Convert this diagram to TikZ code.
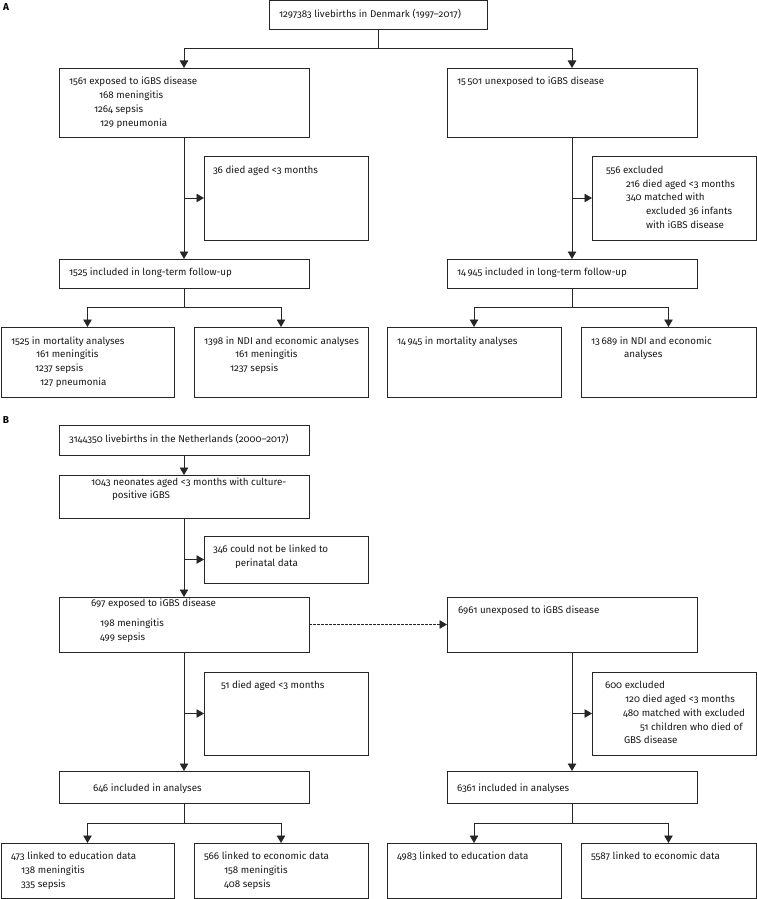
\documentclass[tikz,border=0pt]{standalone}
\usepackage{fontspec}
\setmainfont{Fira Sans}[Numbers=OldStyle]
\usetikzlibrary{arrows.meta}
\tikzset{
  box/.style={draw=black!85, line width=0.9pt, inner sep=0pt, outer sep=0pt, rectangle},
  txt/.style={anchor=base west, inner sep=0pt, outer sep=0pt, font=\fontsize{9.8}{12}\selectfont, text=black!90, yshift=-2.7pt},
  lbl/.style={anchor=center, inner sep=0pt, font=\fontsize{10}{12}\selectfont\bfseries},
  conn/.style={draw=black!85, line width=0.9pt},
  arr/.style={conn, -{Triangle[length=7.5pt,width=8.5pt]}},
  darr/.style={arr, dash pattern=on 2.5pt off 1.5pt}
}
\newcommand\bx[5]{\node[box,anchor=north west,minimum width={(#4-#2)*1pt},minimum height={(#5-#3)*1pt}] (#1) at (#2pt,-#3pt) {};}
\newcommand\tx[4]{\node[txt] (#1) at (#2pt,-#3pt) {#4};}
\begin{document}
\begin{tikzpicture}
\useasboundingbox (0,0) rectangle (757pt,-899pt);
% labels
\node[lbl] (lA) at (6pt,-7pt) {A};
\node[lbl] (lB) at (6pt,-420pt) {B};
% ---------- Panel A ----------
\bx{top}{269}{0.5}{487}{29}
\tx{ttop}{279}{15}{1297383 livebirths in Denmark (1997–2017)}
\bx{ex}{59}{68}{309}{137}
\tx{tex1}{69}{82}{1561 exposed to iGBS disease}
\tx{tex2}{99}{96}{168 meningitis}
\tx{tex3}{94}{110}{1264 sepsis}
\tx{tex4}{100}{124}{129 pneumonia}
\bx{un}{447}{68}{697}{137}
\tx{tun}{457}{82}{15\,501 unexposed to iGBS disease}
\bx{died}{204}{156}{368}{240}
\tx{tdied}{213}{171}{36 died aged <3 months}
\bx{excl}{592}{156}{756}{240}
\tx{texc1}{606}{171}{556 excluded}
\tx{texc2}{626}{185}{216 died aged <3 months}
\tx{texc3}{626}{198}{340 matched with}
\tx{texc4}{646}{212}{excluded 36 infants}
\tx{texc5}{646}{226}{with iGBS disease}
\bx{incl}{59}{259}{309}{288}
\tx{tincl}{69}{273}{1525 included in long-term follow-up}
\bx{incr}{447}{259}{697}{288}
\tx{tincr}{457}{273}{14\,945 included in long-term follow-up}
\bx{mortl}{1}{327}{174}{397}
\tx{tml1}{11}{342}{1525 in mortality analyses}
\tx{tml2}{36}{355}{161 meningitis}
\tx{tml3}{35}{369}{1237 sepsis}
\tx{tml4}{40}{383}{127 pneumonia}
\bx{ndil}{194}{327}{368}{397}
\tx{tnl1}{204}{342}{1398 in NDI and economic analyses}
\tx{tnl2}{235}{355}{161 meningitis}
\tx{tnl3}{230}{369}{1237 sepsis}
\bx{mortr}{387}{327}{561}{397}
\tx{tmr1}{397}{342}{14\,945 in mortality analyses}
\bx{ndir}{581}{327}{756}{397}
\tx{tnr1}{591}{342}{13\,689 in NDI and economic}
\tx{tnr2}{624}{355}{analyses}
% connectors A
\draw[arr] (top.south) -- ++(0,-19pt) -| (ex.north);
\draw[arr] (top.south) -- ++(0,-19pt) -| (un.north);
\draw[arr] (ex.south) -- (incl.north);
\draw[arr] (died.west -| ex.south) -- (died.west);
\draw[arr] (un.south) -- (incr.north);
\draw[arr] (excl.west -| un.south) -- (excl.west);
\draw[arr] (incl.south) -- ++(0,-19pt) -| (mortl.north);
\draw[arr] (incl.south) -- ++(0,-19pt) -| (ndil.north);
\draw[arr] (incr.south) -- ++(0,-19pt) -| (mortr.north);
\draw[arr] (incr.south) -- ++(0,-19pt) -| (ndir.north);
% ---------- Panel B ----------
\bx{nl}{59}{425}{309}{455}
\tx{tnl}{69}{440}{3144350 livebirths in the Netherlands (2000–2017)}
\bx{neo}{59}{475}{309}{518}
\tx{tneo1}{91}{483}{1043 neonates aged <3 months with culture-}
\tx{tneo2}{112}{496}{positive iGBS}
\bx{nolink}{204}{536}{368}{583}
\tx{tnol1}{213}{550}{346 could not be linked to}
\tx{tnol2}{235}{564}{perinatal data}
\bx{exb}{59}{597}{309}{652}
\tx{texb1}{91}{604}{697 exposed to iGBS disease}
\tx{texb2}{100}{624}{198 meningitis}
\tx{texb3}{100}{638}{499 sepsis}
\bx{unb}{447}{597}{697}{652}
\tx{tunb}{458}{611}{6961 unexposed to iGBS disease}
\bx{diedb}{204}{672}{368}{755}
\tx{tdiedb}{221}{686}{51 died aged <3 months}
\bx{exclb}{592}{672}{756}{755}
\tx{texb6}{605}{686}{600 excluded}
\tx{texb7}{625}{700}{120 died aged <3 months}
\tx{texb8}{623}{714}{480 matched with excluded}
\tx{texb9}{640}{728}{51 children who died of}
\tx{texb10}{624}{741}{GBS disease}
\bx{inclb}{59}{771}{309}{803}
\tx{tinclb}{93}{789}{646 included in analyses}
\bx{incrb}{447}{771}{697}{803}
\tx{tincrb}{457}{789}{6361 included in analyses}
\bx{edul}{1}{843}{174}{898.5}
\tx{tel1}{11}{857}{473 linked to education data}
\tx{tel2}{21}{871}{138 meningitis}
\tx{tel3}{21}{885}{335 sepsis}
\bx{ecol}{194}{843}{368}{898.5}
\tx{tcl1}{204}{857}{566 linked to economic data}
\tx{tcl2}{224}{871}{158 meningitis}
\tx{tcl3}{224}{885}{408 sepsis}
\bx{edur}{387}{843}{561}{898.5}
\tx{ter1}{397}{857}{4983 linked to education data}
\bx{ecor}{581}{843}{756}{898.5}
\tx{tcr1}{591}{857}{5587 linked to economic data}
% connectors B
\draw[arr] (nl.south) -- (neo.north);
\draw[arr] (neo.south) -- (exb.north);
\draw[arr] (nolink.west -| neo.south) -- (nolink.west);
\draw[darr] (exb.east) -- (unb.west);
\draw[arr] (exb.south) -- (inclb.north);
\draw[arr] (diedb.west -| exb.south) -- (diedb.west);
\draw[arr] (unb.south) -- (incrb.north);
\draw[arr] (exclb.west -| unb.south) -- (exclb.west);
\draw[arr] (inclb.south) -- ++(0,-20pt) -| (edul.north);
\draw[arr] (inclb.south) -- ++(0,-20pt) -| (ecol.north);
\draw[arr] (incrb.south) -- ++(0,-20pt) -| (edur.north);
\draw[arr] (incrb.south) -- ++(0,-20pt) -| (ecor.north);
\end{tikzpicture}
\end{document}
